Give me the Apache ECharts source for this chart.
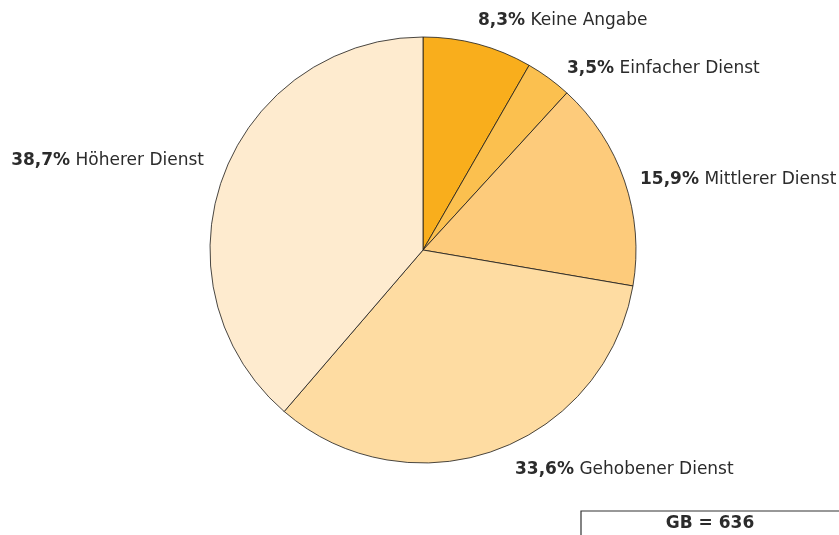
<!DOCTYPE html>
<html>
<head>
<meta charset="utf-8">
<script src="https://cdn.jsdelivr.net/npm/echarts@6/dist/echarts.min.js"></script>
<style>
    html, body { margin: 0; padding: 0; background: #fff; }
    #chart { width: 839px; height: 535px; }
</style>
</head>
<body>
<div id="chart"></div>
<script>
    // Beschäftigte nach Laufbahngruppe, im Uhrzeigersinn ab 12 Uhr
    const categories = ['Keine Angabe', 'Einfacher Dienst', 'Mittlerer Dienst', 'Gehobener Dienst', 'Höherer Dienst'];
    const shares = [8.3, 3.5, 15.9, 33.6, 38.7];
    const sliceColors = ['#F9AE1C', '#FBC04F', '#FDCB7B', '#FEDCA2', '#FEEBCF'];
    const totalLabel = 'GB = 636';

    const fontFam = 'DejaVu Sans, Liberation Sans, sans-serif';

    // Label-Anker (Textzeile, vertikal mittig)
    const labelPos = [
        [478, 21, 'left'],
        [567, 69, 'left'],
        [640, 180, 'left'],
        [515, 470, 'left'],
        [204, 161, 'right']
    ];

    const chart = echarts.init(document.getElementById('chart'));

    const seriesData = categories.map((name, i) => {
        return {
            name: name,
            value: shares[i],
            itemStyle: { color: sliceColors[i] }
        };
    });

    const option = {
        animation: false,
        textStyle: { fontFamily: fontFam },
        series: [
            {
                type: 'pie',
                center: [423, 250],
                radius: 213,
                startAngle: 90,
                clockwise: true,
                data: seriesData,
                itemStyle: {
                    borderColor: '#1a1a1a',
                    borderWidth: 0.8
                },
                label: {
                    show: true,
                    position: 'outside',
                    overflow: 'none',
                    formatter: (p) => '{b|' + p.value.toFixed(1).replace('.', ',') + '%} ' + p.name,
                    color: '#2b2b2b',
                    fontSize: 17,
                    fontFamily: fontFam,
                    rich: {
                        b: { fontWeight: 'bold', fontSize: 17, color: '#2b2b2b', fontFamily: fontFam }
                    }
                },
                labelLine: { show: false },
                labelLayout: (params) => {
                    const p = labelPos[params.dataIndex];
                    return {
                        x: p[0],
                        y: p[1],
                        align: p[2],
                        verticalAlign: 'middle'
                    };
                },
                emphasis: { disabled: true }
            }
        ],
        graphic: [
            {
                type: 'polyline',
                shape: { points: [[581, 535], [581, 511], [839, 511]] },
                style: { stroke: '#333', lineWidth: 1.2, fill: null }
            },
            {
                type: 'text',
                x: 710,
                y: 524,
                style: {
                    text: totalLabel,
                    fontSize: 17,
                    fontWeight: 'bold',
                    fill: '#2b2b2b',
                    align: 'center',
                    verticalAlign: 'middle',
                    fontFamily: fontFam
                }
            }
        ]
    };

    chart.setOption(option);
</script>
</body>
</html>
